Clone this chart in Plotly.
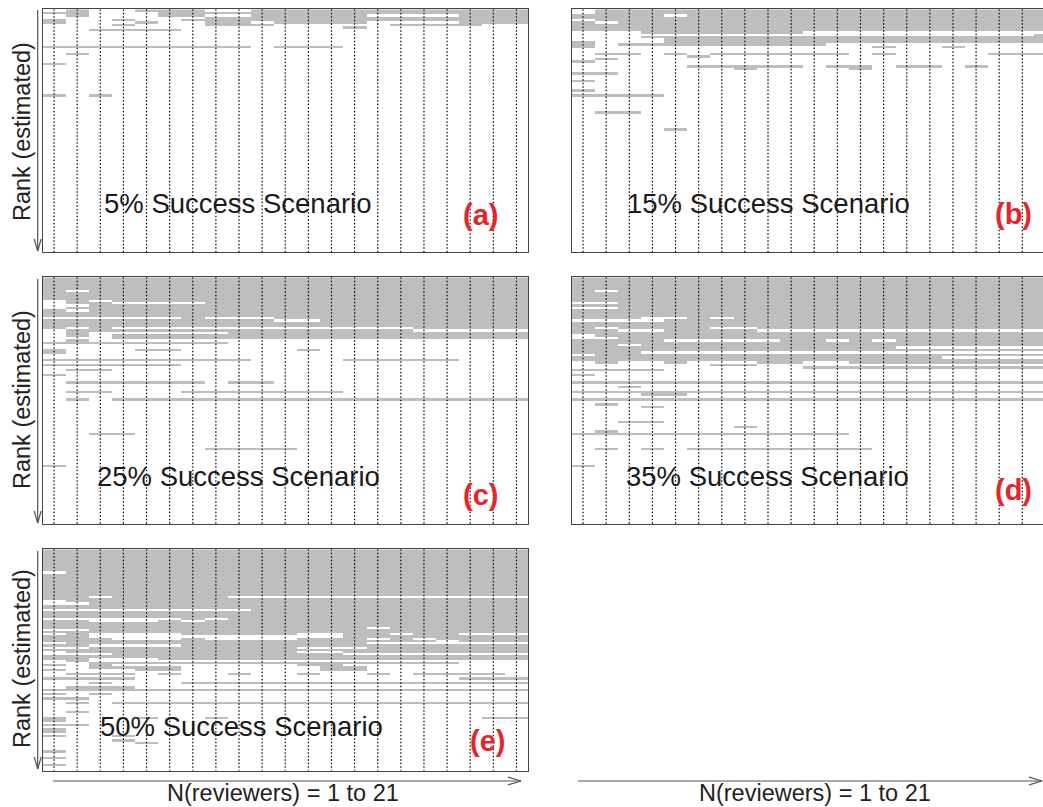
import numpy as np
import plotly.graph_objects as go

# Grid: ranks (rows, top = best estimated rank) x number of reviewers (columns)
N_RANKS = 100
N_REVIEWERS = 21
reviewers = list(range(1, N_REVIEWERS + 1))
ranks = list(range(1, N_RANKS + 1))

# Funded cells as rectangles: (first_rank, last_rank, first_reviewer, last_reviewer)
a_funded = [
    (1, 1, 2, 2), (1, 1, 5, 7), (1, 2, 10, 21),
    (2, 2, 1, 1), (2, 3, 2, 2), (2, 2, 6, 9),
    (3, 3, 6, 7), (3, 3, 10, 14), (3, 6, 19, 21),
    (4, 5, 8, 21),
    (5, 5, 4, 4), (5, 5, 7, 7), (5, 6, 1, 1),
    (6, 6, 5, 5), (6, 7, 8, 9), (6, 6, 11, 14),
    (7, 7, 4, 4), (7, 7, 10, 10), (7, 7, 16, 19),
    (8, 8, 14, 14), (9, 9, 3, 6),
    (16, 16, 1, 9), (16, 16, 11, 13),
    (19, 19, 2, 2), (23, 23, 1, 1), (36, 36, 1, 1), (36, 36, 3, 3),
]
a_gaps = []

b_funded = [
    (1, 9, 1, 21), (10, 10, 4, 10), (11, 11, 21, 21), (12, 12, 4, 4), (12, 14, 5, 21),
    (14, 16, 1, 1), (15, 15, 3, 11), (16, 16, 14, 14), (16, 16, 17, 17),
    (19, 19, 2, 3), (19, 19, 5, 5), (19, 19, 7, 12), (19, 19, 14, 14), (19, 19, 19, 21),
    (20, 20, 6, 6), (21, 21, 2, 2), (22, 22, 1, 1),
    (24, 24, 6, 10), (24, 24, 12, 13), (24, 24, 15, 16), (24, 24, 18, 18),
    (25, 25, 8, 8), (25, 25, 13, 13),
    (27, 27, 1, 2), (30, 30, 1, 1), (34, 34, 1, 1), (36, 36, 1, 4),
    (43, 43, 2, 3), (50, 50, 5, 5),
]
b_gaps = [(1, 2, 1, 1), (3, 3, 5, 5), (5, 5, 1, 1), (6, 6, 2, 2)]

c_funded = [
    (1, 16, 1, 21),
    (17, 17, 7, 7), (17, 17, 11, 21),
    (18, 20, 1, 21),
    (21, 21, 1, 1), (21, 21, 3, 3), (21, 21, 17, 21),
    (22, 22, 2, 16),
    (23, 23, 2, 2), (23, 23, 9, 21),
    (24, 25, 4, 21), (24, 24, 2, 2),
    (26, 26, 2, 2), (27, 27, 1, 8),
    (30, 31, 1, 1), (30, 30, 5, 6), (30, 30, 12, 12),
    (34, 34, 1, 9), (34, 34, 14, 18),
    (36, 36, 1, 6), (38, 38, 2, 3), (40, 40, 1, 1),
    (43, 43, 2, 7), (43, 43, 9, 10),
    (47, 47, 2, 3), (47, 47, 7, 13),
    (50, 50, 2, 2), (50, 50, 4, 21),
    (64, 64, 3, 4), (70, 70, 8, 11), (77, 77, 1, 1),
]
c_gaps = [(6, 6, 2, 2), (10, 13, 1, 1), (12, 12, 2, 2), (14, 14, 2, 2),
          (10, 10, 3, 3), (11, 11, 4, 7), (18, 18, 11, 12)]

d_funded = [
    (1, 27, 1, 21),
    (28, 28, 1, 2), (28, 28, 4, 21),
    (29, 29, 1, 14),
    (30, 30, 1, 21),
    (31, 31, 1, 3),
    (32, 32, 2, 21),
    (33, 33, 1, 16),
    (34, 34, 1, 21),
    (35, 35, 2, 2), (35, 35, 5, 5), (35, 35, 9, 10), (35, 35, 13, 21),
    (36, 36, 7, 8),
    (37, 37, 11, 21),
    (38, 38, 1, 4), (40, 40, 1, 1), (43, 43, 1, 21), (45, 45, 3, 3),
    (47, 47, 1, 21), (48, 48, 4, 5), (50, 50, 1, 21),
    (52, 52, 2, 2), (53, 53, 4, 4), (59, 59, 3, 4), (61, 61, 8, 8),
    (63, 63, 2, 2), (64, 64, 1, 12),
    (70, 70, 2, 2), (70, 70, 4, 4), (70, 70, 6, 13), (77, 77, 1, 1),
]
d_gaps = [(6, 6, 2, 2), (11, 11, 1, 2), (13, 13, 1, 2), (17, 18, 4, 4), (18, 18, 1, 3),
          (17, 17, 5, 5), (17, 17, 7, 7), (21, 21, 2, 2), (22, 22, 3, 4), (21, 21, 7, 8),
          (22, 22, 9, 21), (24, 25, 1, 1), (25, 25, 2, 2), (26, 26, 5, 9),
          (26, 26, 12, 12), (26, 26, 14, 14)]

e_funded = [
    (1, 36, 1, 21),
    (37, 37, 3, 21), (38, 38, 1, 21),
    (39, 39, 2, 2), (39, 39, 7, 11), (39, 39, 14, 15), (39, 39, 17, 18),
    (40, 40, 1, 2), (40, 40, 14, 21),
    (41, 41, 1, 3), (41, 41, 7, 7), (41, 41, 12, 14), (41, 41, 16, 16), (41, 41, 18, 21),
    (42, 42, 1, 17), (42, 42, 19, 21),
    (43, 43, 2, 14),
    (44, 44, 1, 2), (44, 44, 7, 21),
    (45, 45, 3, 11), (45, 45, 15, 21),
    (46, 46, 1, 21),
    (47, 47, 2, 11), (47, 47, 14, 21),
    (48, 48, 4, 13),
    (49, 49, 1, 21),
    (50, 50, 1, 2), (50, 50, 6, 21),
    (51, 51, 2, 2), (52, 52, 3, 6), (52, 52, 7, 18),
    (53, 53, 1, 1), (53, 53, 3, 3), (53, 53, 12, 13),
    (54, 54, 3, 6), (54, 55, 13, 14),
    (55, 55, 1, 1), (55, 55, 5, 6),
    (57, 57, 2, 4), (57, 57, 6, 6), (57, 57, 9, 9), (57, 57, 12, 12),
    (57, 57, 15, 15), (57, 57, 17, 20),
    (59, 59, 1, 4), (59, 59, 19, 21),
    (61, 61, 3, 3), (61, 61, 7, 21),
    (63, 64, 2, 4), (64, 64, 1, 1), (64, 64, 5, 21),
    (66, 66, 1, 1), (66, 66, 3, 3),
    (68, 68, 1, 2),
    (70, 70, 2, 2), (70, 70, 4, 21),
    (74, 74, 2, 2),
    (77, 77, 1, 1), (77, 77, 5, 5), (77, 77, 8, 8), (77, 77, 20, 21),
    (78, 78, 1, 1), (80, 80, 1, 2), (82, 82, 1, 1), (83, 83, 1, 1),
    (85, 85, 1, 1), (85, 85, 4, 4), (87, 87, 4, 4), (88, 88, 5, 5),
    (92, 92, 1, 1), (95, 95, 1, 1), (98, 98, 1, 1),
]
e_gaps = [(11, 11, 1, 1), (22, 22, 3, 3), (22, 22, 9, 21), (24, 25, 1, 1), (25, 25, 2, 2),
          (28, 28, 1, 9), (32, 32, 1, 6), (32, 32, 8, 8), (33, 33, 3, 5), (33, 33, 7, 7),
          (36, 36, 15, 15)]

scenarios = ["5% Success Scenario", "15% Success Scenario", "25% Success Scenario",
             "35% Success Scenario", "50% Success Scenario"]
tags = ["(a)", "(b)", "(c)", "(d)", "(e)"]
y_title = "Rank (estimated)"
x_title = "N(reviewers) = 1 to 21"

W, H = 1043, 807
GREY = "#bebebe"
FONT = "Liberation Sans, Arial, Helvetica, sans-serif"


def grid(funded, gaps):
    z = np.zeros((N_RANKS, N_REVIEWERS))
    for r0, r1, c0, c1 in funded:
        z[r0 - 1:r1, c0 - 1:c1] = 1
    for r0, r1, c0, c1 in gaps:
        z[r0 - 1:r1, c0 - 1:c1] = 0
    return z


def px(x):
    return x / W


def py(y):
    return 1 - y / H


grids = [grid(a_funded, a_gaps), grid(b_funded, b_gaps), grid(c_funded, c_gaps),
         grid(d_funded, d_gaps), grid(e_funded, e_gaps)]

# panel geometry in pixels: left, right, top, bottom
left_col = (42.5, 528.0)
right_col = (571.5, 1043.0)
rows_px = [(9.3, 252.0), (277.3, 524.0), (549.3, 770.7)]
col_w = (left_col[1] - left_col[0]) / N_REVIEWERS
right_xmax = 0.5 + (right_col[1] - right_col[0]) / col_w

panels = [
    (left_col, rows_px[0], False),
    (right_col, rows_px[0], True),
    (left_col, rows_px[1], False),
    (right_col, rows_px[1], True),
    (left_col, rows_px[2], False),
]

fig = go.Figure()
layout = {}
for i, (z, (xc, yr, cut)) in enumerate(zip(grids, panels)):
    k = "" if i == 0 else str(i + 1)
    xmax = right_xmax if cut else N_REVIEWERS + 0.5
    fig.add_trace(go.Heatmap(
        z=z, x=reviewers, y=ranks, zmin=0, zmax=1,
        colorscale=[[0, "#ffffff"], [1, GREY]], showscale=False,
        hoverinfo="skip", xaxis="x" + k, yaxis="y" + k,
    ))
    # dotted guide at every reviewer count
    vx, vy = [], []
    for c in reviewers:
        if c < xmax:
            vx += [c, c, None]
            vy += [0.5, N_RANKS + 0.5, None]
    fig.add_trace(go.Scatter(
        x=vx, y=vy, mode="lines", xaxis="x" + k, yaxis="y" + k,
        line=dict(color="#000000", width=1.2, dash="1.5px,2px"),
        hoverinfo="skip", showlegend=False,
    ))
    layout["xaxis" + k] = dict(
        domain=[px(xc[0]), px(xc[1])], range=[0.5, xmax], anchor="y" + k,
        showticklabels=False, ticks="", showgrid=False, zeroline=False,
        showline=True, mirror=True, linecolor="#444444", linewidth=1.3,
    )
    layout["yaxis" + k] = dict(
        domain=[py(yr[1]), py(yr[0])], range=[N_RANKS + 0.5, 0.5], anchor="x" + k,
        showticklabels=False, ticks="", showgrid=False, zeroline=False,
        showline=True, mirror=not cut, linecolor="#444444", linewidth=1.3,
    )

annotations = []
shapes = []

label_pos = [(238, 204), (768, 204), (238, 476), (767, 476), (241, 726)]
tag_pos = [(480, 215), (1013, 214), (480, 495), (1013, 490), (487, 741)]
for text, (x, y) in zip(scenarios, label_pos):
    annotations.append(dict(text=text, x=px(x), y=py(y), xref="paper", yref="paper",
                            xanchor="center", yanchor="middle", showarrow=False,
                            font=dict(family=FONT, size=27.5, color="#1a1a1a")))
for text, (x, y) in zip(tags, tag_pos):
    annotations.append(dict(text="<b>" + text + "</b>", x=px(x), y=py(y),
                            xref="paper", yref="paper", xanchor="center", yanchor="middle",
                            showarrow=False, font=dict(family=FONT, size=29, color="#e8242b")))

# rank arrows and titles on the left column
ARROW = dict(color="#555555", width=1.2)
for (top, bottom), yc in zip([(10, 251), (279, 523), (551, 769)], [132, 400, 659]):
    annotations.append(dict(text=y_title, x=px(22), y=py(yc), xref="paper", yref="paper",
                            xanchor="center", yanchor="middle", textangle=-90,
                            showarrow=False, font=dict(family=FONT, size=23.5, color="#222222")))
    ax = 37.7
    shapes.append(dict(type="line", xref="paper", yref="paper", x0=px(ax), x1=px(ax),
                       y0=py(top), y1=py(bottom), line=ARROW))
    for s in (-3.5, 3.5):
        shapes.append(dict(type="line", xref="paper", yref="paper", x0=px(ax + s), x1=px(ax),
                           y0=py(bottom - 12), y1=py(bottom), line=ARROW))

# reviewer arrows and titles below each column
for (x0, x1), xc in zip([(53, 521), (578, 1042)], [283, 815]):
    yy = 781
    shapes.append(dict(type="line", xref="paper", yref="paper", x0=px(x0), x1=px(x1),
                       y0=py(yy), y1=py(yy), line=ARROW))
    for s in (-3.8, 3.8):
        shapes.append(dict(type="line", xref="paper", yref="paper", x0=px(x1 - 13), x1=px(x1),
                           y0=py(yy + s), y1=py(yy), line=ARROW))
    annotations.append(dict(text=x_title, x=px(xc), y=py(793), xref="paper", yref="paper",
                            xanchor="center", yanchor="middle", showarrow=False,
                            font=dict(family=FONT, size=23.5, color="#222222")))

fig.update_layout(
    width=W, height=H, margin=dict(l=0, r=0, t=0, b=0),
    paper_bgcolor="white", plot_bgcolor="white", showlegend=False,
    annotations=annotations, shapes=shapes, **layout,
)

fig.write_html("out.html")
